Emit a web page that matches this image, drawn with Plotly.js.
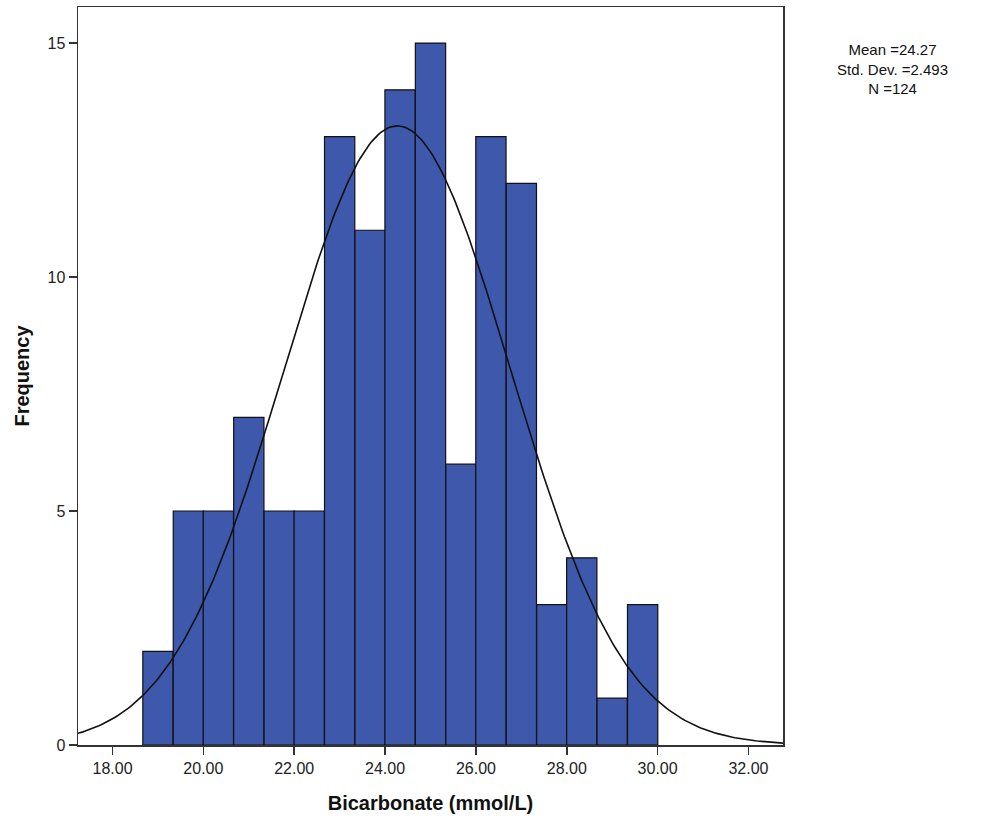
<!DOCTYPE html>
<html>
<head>
<meta charset="utf-8">
<script src="https://cdn.plot.ly/plotly-3.0.1.min.js"></script>
<style>html,body{margin:0;padding:0;background:#fff;}#chart{width:981px;height:826px;}</style>
</head>
<body>
<div id="chart"></div>
<script>
// Histogram bins (centres, mmol/L) and frequencies
const binCenters = [19.00, 19.67, 20.33, 21.00, 21.67, 22.33, 23.00, 23.67, 24.33, 25.00, 25.67, 26.33, 27.00, 27.67, 28.33, 29.00, 29.67];
const frequencies = [2, 5, 5, 7, 5, 5, 13, 11, 14, 15, 6, 13, 12, 3, 4, 1, 3];
const binWidth = 0.6667;
// Summary statistics shown in the chart
const statMean = 24.27;
const statSD = 2.493;
const statN = 124;
const xTickVals = [18, 20, 22, 24, 26, 28, 30, 32];
const yTickVals = [0, 5, 10, 15];

// Fitted normal curve scaled to counts
const curveX = [];
const curveY = [];
for (let x = 17.0; x <= 33.0001; x += 0.05) {
  const z = (x - statMean) / statSD;
  curveX.push(x);
  curveY.push(statN * binWidth * Math.exp(-0.5 * z * z) / (statSD * Math.sqrt(2 * Math.PI)));
}

const bars = {
  type: 'bar',
  x: binCenters,
  y: frequencies,
  width: binCenters.map(() => binWidth),
  marker: {color: '#3e58ac', line: {color: '#111', width: 1.2}},
  hoverinfo: 'x+y'
};
const curve = {
  type: 'scatter',
  mode: 'lines',
  x: curveX,
  y: curveY,
  line: {color: '#111', width: 1.6},
  hoverinfo: 'skip'
};

const layout = {
  width: 981, height: 826,
  margin: {l: 78, r: 198, t: 7, b: 81},
  paper_bgcolor: '#fff', plot_bgcolor: '#fff',
  showlegend: false,
  font: {family: 'Liberation Sans, Arial, sans-serif', color: '#222'},
  xaxis: {
    range: [17.24, 32.76],
    tickvals: xTickVals,
    ticktext: xTickVals.map(v => v.toFixed(2)),
    ticks: 'outside', ticklen: 8, tickwidth: 1.5, tickcolor: '#333',
    showgrid: false, zeroline: false,
    showline: true, mirror: true, linecolor: '#333', linewidth: 1.5,
    tickfont: {size: 16, color: '#222'},
    title: {text: 'Bicarbonate (mmol/L)', font: {size: 20, color: '#111', family: 'Liberation Sans, Arial, sans-serif', weight: 'bold'}, standoff: 20}
  },
  yaxis: {
    range: [0, 15.77],
    tickvals: yTickVals,
    ticks: 'outside', ticklen: 8, tickwidth: 1.5, tickcolor: '#333',
    showgrid: false, zeroline: false,
    showline: true, mirror: true, linecolor: '#333', linewidth: 1.5,
    tickfont: {size: 16, color: '#222'},
    title: {text: 'Frequency', font: {size: 20, color: '#111', family: 'Liberation Sans, Arial, sans-serif', weight: 'bold'}, standoff: 12}
  },
  annotations: [{
    xref: 'paper', yref: 'paper',
    x: 1.0, y: 0.99, xanchor: 'left', yanchor: 'top',
    xshift: 52, yshift: -25,
    align: 'center', showarrow: false,
    text: 'Mean =' + statMean.toFixed(2) + '<br>Std. Dev. =' + statSD.toFixed(3) + '<br>N =' + statN,
    font: {size: 15, color: '#111', family: 'Liberation Sans, Arial, sans-serif'}
  }]
};

Plotly.newPlot('chart', [bars, curve], layout, {displayModeBar: false, staticPlot: true});
</script>
</body>
</html>
